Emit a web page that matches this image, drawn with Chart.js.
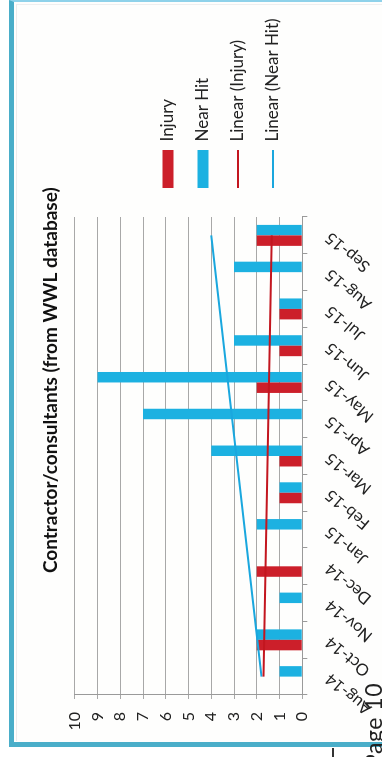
<!DOCTYPE html>
<html>
<head>
<meta charset="utf-8">
<script src="https://cdn.jsdelivr.net/npm/chart.js@4.4.1/dist/chart.umd.min.js"></script>
<style>
  html, body { margin: 0; padding: 0; width: 382px; height: 757px; overflow: hidden; background: #ffffff; position: relative; font-family: Lato, "Open Sans", sans-serif; }
  #frame { position: absolute; left: 9px; top: 0; width: 380px; height: 747px; box-sizing: border-box;
           border-left: 5px solid #4aaec9; border-bottom: 5px solid #4aaec9; border-top: 2px solid #8fd2ea; background: #fefefd; }
  #inner { position: absolute; left: 16px; top: 4px; width: 370px; height: 736px; border-left: 1px solid #ececec; border-top: 1px solid #efefef; }
  #wrap { position: absolute; left: 0; top: 0; width: 770px; height: 360px; transform-origin: 0 0; transform: translate(20px, 740px) rotate(-90deg); }
  #pg { position: absolute; left: 0; top: 0; width: 130px; text-align: right; font: 23px Lato, sans-serif; line-height: 23px; letter-spacing: 0.5px; color: #222; white-space: nowrap;
        transform-origin: 0 0; transform: translate(362px, 813px) rotate(-90deg); }
  #tick { position: absolute; left: 332px; top: 748px; width: 2px; height: 9px; background: #333; }
</style>
</head>
<body>
<div id="frame"></div>
<div id="inner"></div>
<div id="wrap"><canvas id="c" width="770" height="360"></canvas></div>
<div id="pg">Page 10</div>
<div id="tick"></div>
<script>
// ---- data ----
const categories = ['Aug-14','Oct-14','Nov-14','Dec-14','Jan-15','Feb-15','Mar-15','Apr-15','May-15','Jun-15','Jul-15','Aug-15','Sep-15'];
const injury  = [null, 2, null, 2, null, 1, 1, null, 2, 1, 1, null, 2];
const nearHit = [1, 2, 1, null, 2, 1, 4, 7, 9, 3, 1, 3, 2];
// linear trend lines: value at first and last category
const injuryTrendEnds  = [1.71, 1.34];
const nearHitTrendEnds = [1.79, 4.00];
const valueTicks = [0, 1, 2, 3, 4, 5, 6, 7, 8, 9, 10];
const titleText = 'Contractor/consultants (from WWL database)';
const seriesLabels = ['Injury', 'Near Hit', 'Linear (Injury)', 'Linear (Near Hit)'];

function trendSeries(ends) {
  return categories.map((c, i) => i === 0 ? ends[0] : (i === categories.length - 1 ? ends[1] : null));
}

const FONT = 'Lato';
const CW = 770;
const chart = new Chart(document.getElementById('c'), {
  type: 'bar',
  data: {
    labels: categories,
    datasets: [
      { label: seriesLabels[0], data: injury, backgroundColor: '#cc1f2a', categoryPercentage: 0.57, barPercentage: 1, order: 1 },
      { label: seriesLabels[1], data: nearHit, backgroundColor: '#1cb1e1', categoryPercentage: 0.57, barPercentage: 1, order: 1 },
      { type: 'line', label: seriesLabels[2], data: trendSeries(injuryTrendEnds), borderColor: '#c3161f', backgroundColor: '#c3161f',
        borderWidth: 2, pointRadius: 0, spanGaps: true, order: 0 },
      { type: 'line', label: seriesLabels[3], data: trendSeries(nearHitTrendEnds), borderColor: '#1aa7de', backgroundColor: '#1aa7de',
        borderWidth: 2, pointRadius: 0, spanGaps: true, order: 0 }
    ]
  },
  options: {
    responsive: false,
    animation: false,
    events: [],
    layout: { padding: { left: -12, right: 3, top: 0, bottom: 0 } },
    plugins: {
      title: { display: true, text: titleText, color: '#111', font: { family: FONT, size: 19, weight: 'bold' }, padding: { top: 19, bottom: 13 } },
      legend: {
        position: 'right', align: 'start', maxWidth: 300,
        title: { display: true, text: ' ', font: { size: 12 }, padding: { top: 107, bottom: 0 } },
        labels: {
          usePointStyle: true, pointStyleWidth: 38, boxWidth: 38, boxHeight: 11, padding: 18, color: '#222',
          font: { family: FONT, size: 17 },
          sort: (a, b) => a.datasetIndex - b.datasetIndex,
          generateLabels: (ch) => {
            const items = Chart.defaults.plugins.legend.labels.generateLabels(ch);
            items.forEach(it => { it.pointStyle = ch.data.datasets[it.datasetIndex].type === 'line' ? 'line' : 'rect'; });
            return items;
          }
        }
      },
      tooltip: { enabled: false }
    },
    scales: {
      x: {
        grid: { display: true, drawOnChartArea: false, drawTicks: true, tickLength: 5, color: '#9a9a9a', offset: true },
        border: { color: '#9a9a9a' },
        ticks: { minRotation: 50, maxRotation: 50, color: '#222', font: { family: FONT, size: 16.5 }, padding: 14 },
        afterFit: (s) => { s.height = 77.7; }
      },
      y: {
        min: 0, max: 10,
        afterBuildTicks: (s) => { s.ticks = valueTicks.map(v => ({ value: v })); },
        grid: { color: '#a8a8a8', tickLength: 4 },
        border: { color: '#9a9a9a' },
        ticks: { color: '#222', font: { family: FONT, size: 16 }, padding: 13 },
        afterFit: (s) => { s.width = 57; }
      },
      yR: {
        position: 'right', display: true,
        grid: { display: false }, border: { display: false }, ticks: { display: false },
        afterFit: (s) => { s.width = 11; }
      }
    }
  }
});
// place legend so its first marker starts 30px after the plot's right edge
const lg = chart.legend;
const wantLeft = 534;
chart.options.layout.padding.right = Math.max(0, CW - wantLeft - lg.width);
chart.update();
</script>
</body>
</html>
